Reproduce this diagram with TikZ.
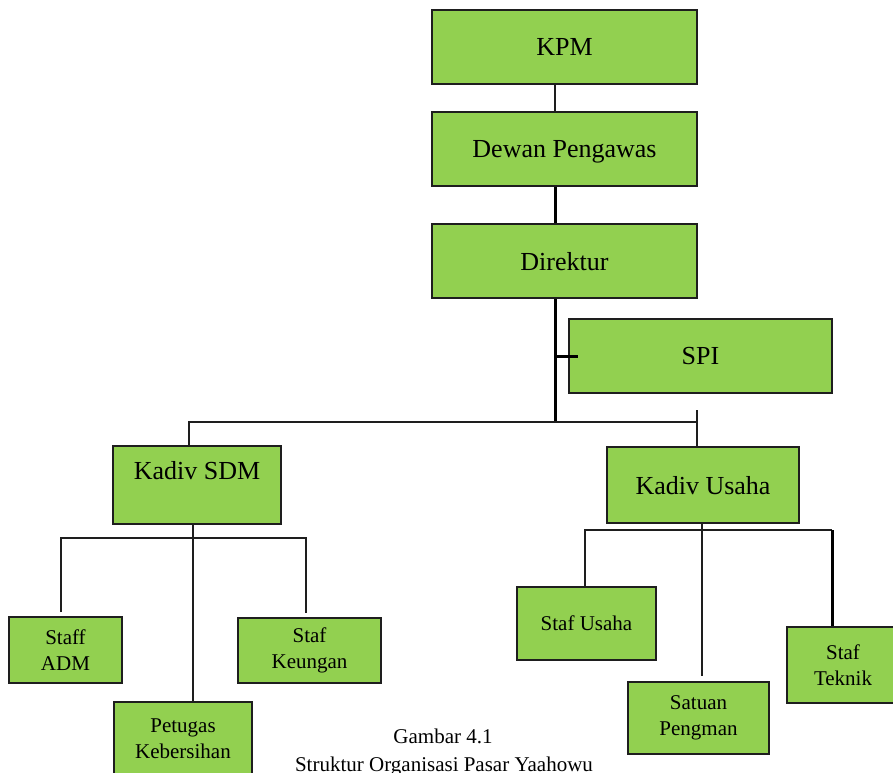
\documentclass[tikz,border=0pt]{standalone}
\usepackage{fontspec}
\setmainfont{Liberation Serif}
\usetikzlibrary{calc}
\definecolor{boxgreen}{RGB}{146,208,80}
\definecolor{edge}{RGB}{30,30,30}
\begin{document}
\begin{tikzpicture}[x=1pt,y=-1pt,
  box/.style={draw=edge,fill=boxgreen,line width=2pt,inner sep=0pt,align=center},
  bigbox/.style={box,font=\fontsize{26}{30}\selectfont},
  oneline/.style={text depth=0pt},
  smallbox/.style={box,font=\fontsize{21}{26}\selectfont},
  thinline/.style={draw=edge,line width=1.2pt},
  thickline/.style={draw=black,line width=3pt},
  caption/.style={font=\fontsize{21}{25}\selectfont,anchor=base}]
\useasboundingbox[fill=white] (0,0) rectangle (893,772);

\node[bigbox,oneline,minimum width=265pt,minimum height=74pt] (KPM) at (564.5,47) {KPM};
\node[bigbox,oneline,minimum width=265pt,minimum height=74pt] (Dewan) at (564.5,149) {Dewan Pengawas};
\node[bigbox,oneline,minimum width=265pt,minimum height=74pt] (Direktur) at (564.5,261) {Direktur};
\node[bigbox,oneline,minimum width=263pt,minimum height=74pt] (SPI) at (700.5,356) {SPI};
\node[bigbox,minimum width=168pt,minimum height=78pt] (KadivSDM) at (197,485) {Kadiv SDM\\\mbox{}};
\node[bigbox,oneline,minimum width=192pt,minimum height=76pt] (KadivUsaha) at (703,485) {Kadiv Usaha};
\node[smallbox,minimum width=113pt,minimum height=66pt] (StaffADM) at (65.5,650) {Staff\\ADM};
\node[smallbox,minimum width=143pt,minimum height=65pt] (StafKeu) at (309.5,650.5) {Staf\\Keungan};
\node[smallbox,minimum width=138pt,minimum height=74pt] (Petugas) at (183,739) {Petugas\\Kebersihan};
\node[smallbox,oneline,minimum width=139pt,minimum height=73pt] (StafUsaha) at (586.5,623.5) {Staf Usaha};
\node[smallbox,minimum width=141pt,minimum height=72pt] (Satuan) at (698.5,718) {Satuan\\Pengman};
\node[smallbox,minimum width=112pt,minimum height=76pt] (StafTeknik) at (843,665) {Staf\\Teknik};

\coordinate (spine) at (555,0);
\coordinate (bus) at (555,422);
\coordinate (busL) at (189,422);
\coordinate (busR) at (697,422);
\coordinate (busRtop) at (697,410);
\coordinate (sdmC) at (193,538);
\coordinate (sdmL) at (61,538);
\coordinate (sdmR) at (306,538);
\coordinate (usC) at (702,530);
\coordinate (usL) at (585,530);
\coordinate (usR) at (832,530);

\draw[thinline] (KPM.south -| spine) -- (Dewan.north -| spine);
\draw[thickline] (Dewan.south -| spine) -- (Direktur.north -| spine);
\draw[thickline] (Direktur.south -| spine) -- (bus);
\draw[thickline] (spine |- SPI.west) -- ($(SPI.west)+(10,0)$);
\draw[thinline] (busL |- KadivSDM.north) -- (busL) -- (busR);
\draw[thinline] (busRtop) -- (busR |- KadivUsaha.north);

\draw[thinline] (KadivSDM.south -| sdmC) -- (Petugas.north -| sdmC);
\draw[thinline] ($(sdmL |- StaffADM.north)+(0,-4)$) -- (sdmL) -- (sdmR) -- ($(sdmR |- StafKeu.north)+(0,-4)$);

\draw[thinline] (KadivUsaha.south -| usC) -- ($(Satuan.north -| usC)+(0,-5)$);
\draw[thinline] (usL |- StafUsaha.north) -- (usL) -- (usR);
\draw[thickline] (usR) -- (usR |- StafTeknik.north);

\node[caption] (cap1) at (443,743) {Gambar 4.1};
\node[caption] (cap2) at (444,771) {Struktur Organisasi Pasar Yaahowu};
\end{tikzpicture}
\end{document}
